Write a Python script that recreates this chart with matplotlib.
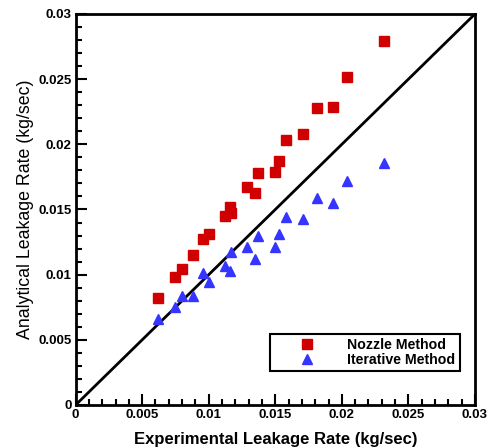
import numpy as np
import matplotlib.pyplot as plt
from matplotlib.ticker import MultipleLocator

plt.rcParams['font.family'] = ['Liberation Sans', 'DejaVu Sans']

# experimental leakage rate (kg/sec)
exp_rate = [0.0062, 0.0075, 0.0080, 0.0088, 0.0096, 0.0100, 0.0112, 0.0116,
            0.0117, 0.0129, 0.0135, 0.0137, 0.0150, 0.0153, 0.0158, 0.0171,
            0.0181, 0.0193, 0.0204, 0.0232]
# analytical leakage rate, nozzle method
nozzle = [0.0082, 0.0098, 0.0104, 0.0115, 0.0127, 0.0131, 0.0145, 0.0152,
          0.0147, 0.0167, 0.0163, 0.0178, 0.0179, 0.0187, 0.0203, 0.0208,
          0.0228, 0.0229, 0.0252, 0.0279]
# analytical leakage rate, iterative method
iterative = [0.0066, 0.0075, 0.0084, 0.0084, 0.0101, 0.0094, 0.0107, 0.0103,
             0.0117, 0.0121, 0.0112, 0.0130, 0.0121, 0.0131, 0.0144, 0.0143,
             0.0159, 0.0155, 0.0172, 0.0186]
ticks = [0, 0.005, 0.01, 0.015, 0.02, 0.025, 0.03]
tick_labels = ['0', '0.005', '0.01', '0.015', '0.02', '0.025', '0.03']

fig = plt.figure(figsize=(4.92, 4.48), dpi=100)
ax = fig.add_axes([0.1537, 0.096, 0.8117, 0.8728])

ax.plot([0, 0.03], [0, 0.03], color='black', lw=2, zorder=1)
ax.plot(exp_rate, nozzle, 's', color='#d10000', ms=6.5, mec='#d10000',
        label='Nozzle Method', zorder=3)
ax.plot(exp_rate, iterative, '^', color='#3535ff', ms=7.5, mec='#3535ff',
        label='Iterative Method', zorder=3)

ax.set_xlim(0, 0.03)
ax.set_ylim(0, 0.03)
ax.set_xticks(ticks)
ax.set_yticks(ticks)
ax.set_xticklabels(tick_labels, fontweight='bold')
ax.set_yticklabels(tick_labels, fontweight='bold')
ax.xaxis.set_minor_locator(MultipleLocator(0.001))
ax.yaxis.set_minor_locator(MultipleLocator(0.001))
ax.tick_params(which='both', direction='in', top=False, right=False,
               labelsize=9.5, width=1.5, pad=3)
ax.tick_params(which='major', length=8)
ax.tick_params(which='minor', length=4)
for s in ax.spines.values():
    s.set_linewidth(2)

ax.set_xlabel('Experimental Leakage Rate (kg/sec)', fontsize=12,
              fontweight='bold', labelpad=8)
ax.set_ylabel('Analytical Leakage Rate (kg/sec)', fontsize=12.8, labelpad=3)

leg = ax.legend(loc='lower right', bbox_to_anchor=(0.962, 0.087),
                fancybox=False, framealpha=1, edgecolor='black',
                prop={'weight': 'bold', 'size': 10.2}, handletextpad=0.55,
                borderpad=0.3, labelspacing=0.05, handlelength=4.6,
                borderaxespad=0)
leg.get_frame().set_linewidth(1.5)

fig.savefig('out.png', dpi=100)
